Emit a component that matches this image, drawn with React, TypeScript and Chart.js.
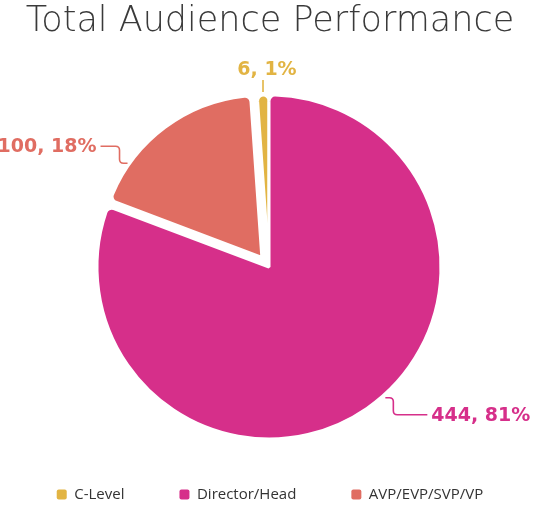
import { useEffect, useRef } from "react";
import { Chart, registerables } from "chart.js";

Chart.register(...registerables);

const categories = ["C-Level", "Director/Head", "AVP/EVP/SVP/VP"];
const audience = [6, 444, 100];
const percentLabels = ["1%", "81%", "18%"];
const sliceColors = ["#E2B443", "#D62F8A", "#E06D62"];
const sliceOffsets = [0, 0, 48];
// where along each slice the leader line leaves the edge (0 = start, 1 = end)
const anchorAt = [0.5, 0.476, 0.22];
const leaderLength = [0, 34, 19];

const total = audience.reduce((a, b) => a + b, 0);

// pulled-out slices are drawn a little smaller than the rest
const shrinkPlugin = {
  id: "shrinkOffsetSlices",
  beforeDatasetsDraw(chart: any) {
    const meta = chart.getDatasetMeta(0);
    const base = meta.controller.outerRadius;
    meta.data.forEach((arc: any, i: number) => {
      arc.outerRadius = sliceOffsets[i] > 0 ? base - 11 : base;
    });
  },
};

const sliceLabelPlugin = {
  id: "sliceLabels",
  afterDatasetsDraw(chart: any) {
    const ctx = chart.ctx as CanvasRenderingContext2D;
    const meta = chart.getDatasetMeta(0);
    meta.data.forEach((arc: any, i: number) => {
      const { x, y, startAngle, endAngle, outerRadius } = arc.getProps(
        ["x", "y", "startAngle", "endAngle", "outerRadius"],
        true
      );
      const mid = (startAngle + endAngle) / 2;
      const shift = (arc.options.offset || 0) / 4;
      const cx = x + Math.cos(mid) * shift;
      const cy = y + Math.sin(mid) * shift;
      const a = startAngle + (endAngle - startAngle) * anchorAt[i];
      const r = outerRadius + 3;
      const px = cx + Math.cos(a) * r;
      const py = cy + Math.sin(a) * r;
      const color = sliceColors[i];
      const text = `${audience[i]}, ${percentLabels[i]}`;

      ctx.save();
      ctx.strokeStyle = color;
      ctx.fillStyle = color;
      ctx.lineWidth = 1.6;
      ctx.font = "700 19px 'DejaVu Sans'";
      ctx.textBaseline = "middle";

      if (Math.abs(Math.cos(a)) < 0.2) {
        const dir = Math.sin(a) < 0 ? -1 : 1;
        const ey = py + dir * 12;
        ctx.beginPath();
        ctx.moveTo(px, py);
        ctx.lineTo(px, ey);
        ctx.stroke();
        ctx.textAlign = "center";
        ctx.fillText(text, px + 4, ey + dir * 10);
      } else {
        const vdir = Math.sin(a) < 0 ? -1 : 1;
        const hdir = Math.cos(a) < 0 ? -1 : 1;
        const rc = 4;
        const x1 = px + hdir * 8;
        const ly = py + vdir * 17;
        const lx = x1 + hdir * leaderLength[i];
        ctx.beginPath();
        ctx.moveTo(px, py);
        ctx.lineTo(x1 - hdir * rc, py);
        ctx.quadraticCurveTo(x1, py, x1, py + vdir * rc);
        ctx.lineTo(x1, ly - vdir * rc);
        ctx.quadraticCurveTo(x1, ly, x1 + hdir * rc, ly);
        ctx.lineTo(lx, ly);
        ctx.stroke();
        ctx.textAlign = hdir < 0 ? "right" : "left";
        ctx.fillText(text, lx + hdir * 4, ly + 1);
      }
      ctx.restore();
    });
  },
};

export default function App() {
  const chartRef = useRef<HTMLCanvasElement>(null);
  const chartInstance = useRef<Chart | null>(null);

  useEffect(() => {
    if (!chartRef.current) return;
    if (chartInstance.current) chartInstance.current.destroy();
    const ctx = chartRef.current.getContext("2d");
    if (!ctx) return;

    chartInstance.current = new Chart(ctx, {
      type: "pie",
      data: {
        labels: categories,
        datasets: [
          {
            data: audience,
            backgroundColor: sliceColors,
            borderColor: "#ffffff",
            borderWidth: 3,
            borderRadius: 6,
            offset: sliceOffsets,
          },
        ],
      },
      options: {
        animation: false,
        responsive: true,
        maintainAspectRatio: false,
        radius: 172,
        rotation: -(audience[0] / total) * 360,
        layout: { padding: { left: -12, right: -14, top: 0, bottom: -5 } },
        plugins: {
          title: {
            display: true,
            text: "Total Audience Performance",
            color: "#3a3a3a",
            font: { family: "'DejaVu Sans'", size: 35, weight: "200" },
            padding: { top: 1, bottom: 59 },
          },
          legend: {
            position: "bottom",
            labels: {
              boxWidth: 10,
              boxHeight: 10,
              padding: 55,
              color: "#333333",
              font: { family: "'Open Sans'", size: 15 },
              useBorderRadius: true,
              borderRadius: 2,
              generateLabels(chart: any) {
                const items = Chart.overrides.pie.plugins.legend.labels.generateLabels(chart);
                return items.map((item: any) => ({
                  ...item,
                  lineWidth: 0,
                  strokeStyle: item.fillStyle,
                }));
              },
            },
          },
          tooltip: { enabled: false },
        },
      } as any,
      plugins: [shrinkPlugin, sliceLabelPlugin],
    });

    return () => {
      if (chartInstance.current) {
        chartInstance.current.destroy();
        chartInstance.current = null;
      }
    };
  }, []);

  return (
    <div style={{ position: "absolute", left: 0, top: 0, width: 538, height: 507, background: "#fff" }}>
      <canvas ref={chartRef}></canvas>
    </div>
  );
}
